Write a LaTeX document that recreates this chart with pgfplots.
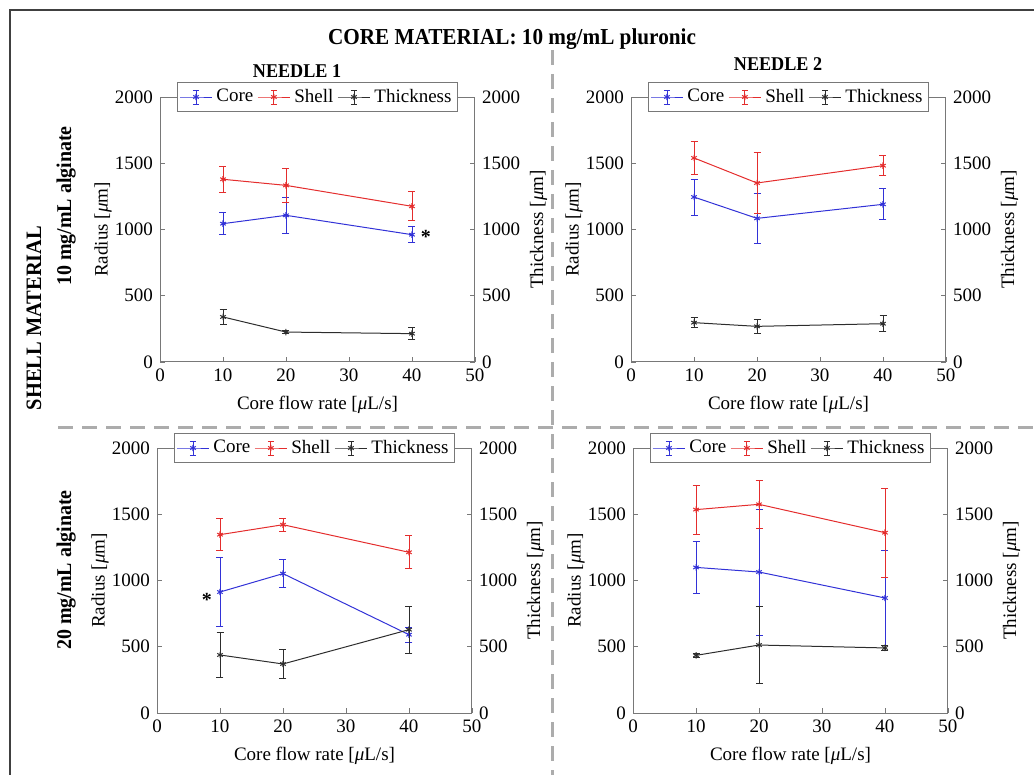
\documentclass[border=0pt]{standalone}
\usepackage{fontspec}
\setmainfont{Liberation Serif}
\newfontfamily\condfont{Liberation Serif}[FakeStretch=0.93]
\newfontfamily\rowfont{Liberation Serif}[FakeStretch=0.95]
\usepackage{pgfplots}
\pgfplotsset{compat=1.18}
\definecolor{coreblue}{RGB}{50,50,215}
\definecolor{shellred}{RGB}{228,45,45}
\definecolor{thickgray}{RGB}{45,45,45}
\definecolor{axgray}{RGB}{120,120,120}
\definecolor{dashgray}{RGB}{172,172,172}
\newcommand{\tf}{\fontsize{9.5}{11}\selectfont}

\pgfplotsset{
 ebar/.style={error bars/y dir=both, error bars/y explicit,
   error bars/error bar style={line width=0.45pt,solid},
   error bars/error mark options={rotate=90,mark size=1.75pt,line width=0.45pt,solid}},
 coreS/.style={color=coreblue, line width=0.5pt, mark=asterisk, mark size=1.6pt},
 shellS/.style={color=shellred, line width=0.5pt, mark=asterisk, mark size=1.6pt},
 thickS/.style={color=thickgray, line width=0.5pt, mark=asterisk, mark size=1.6pt},
 base/.style={
   scale only axis, width=157.5pt, height=132.5pt,
   xmin=0, xmax=50, ymin=0, ymax=2000,
   xtick={0,10,20,30,40,50}, ytick={0,500,1000,1500,2000},
   axis line style={axgray, line width=0.5pt},
   every tick/.style={axgray, line width=0.45pt},
   major tick length=2.5pt,
   tick label style={font=\tf, text=black},
   /pgf/number format/assume math mode=true,
   /pgf/number format/1000 sep={},
   clip=false,
 },
 leftax/.style={base, anchor=south west, ytick pos=left, xtick pos=bottom, tick align=inside,
   xlabel={Core flow rate [\textit{μ}L/s]}, ylabel={Radius [\textit{μ}m]},
   every axis x label/.style={at={(axis description cs:0.5,-0.1623)}, anchor=center, font=\tf},
   every axis y label/.style={at={(axis description cs:-0.181,0.5)}, rotate=90, anchor=center, font=\tf},
   legend style={at={(0.5,1)}, anchor=center, legend columns=3, draw=axgray, fill=white,
     font=\tf, inner sep=1pt, line width=0.5pt},
   legend image code/.code={
     \draw[mark repeat=2,mark phase=2,##1] plot coordinates {(0pt,0pt) (8pt,0pt) (16pt,0pt)};
     \draw[##1, mark=none, line width=0.45pt] (8pt,-3.5pt) -- (8pt,3.5pt)
        (6.5pt,-3.5pt) -- (9.5pt,-3.5pt) (6.5pt,3.5pt) -- (9.5pt,3.5pt);
   },
 },
 rightax/.style={base, anchor=south west, axis x line=none, axis y line*=right, ytick pos=right,
   tick align=inside, ylabel={Thickness [\textit{μ}m]},
   every axis y label/.style={at={(axis description cs:1.2016,0.5)}, rotate=90, anchor=center, font=\tf},
 },
}

\begin{document}
\begin{tikzpicture}
\useasboundingbox (0pt,0pt) rectangle (517pt,-387.5pt);
\draw[black!75, line width=0.6pt] (5pt,-387.5pt) -- (5pt,-5pt) -- (517pt,-5pt);
\draw[dashgray, line width=1.5pt, dash pattern=on 7.5pt off 4.5pt] (29pt,-213.5pt) -- (517pt,-213.5pt);
\draw[dashgray, line width=1.5pt, dash pattern=on 7.5pt off 4.5pt] (276pt,-25pt) -- (276pt,-387.5pt);

\node[font=\condfont\bfseries\fontsize{11.4}{13}\selectfont, anchor=base] at (256pt,-22.5pt) {CORE MATERIAL: 10 mg/mL pluronic};
\node[font=\condfont\bfseries\fontsize{9.75}{12}\selectfont, anchor=base] at (148.5pt,-39pt) {NEEDLE 1};
\node[font=\condfont\bfseries\fontsize{9.75}{12}\selectfont, anchor=base] at (389pt,-35.5pt) {NEEDLE 2};
\node[font=\rowfont\bfseries\fontsize{10.5}{12}\selectfont, rotate=90, anchor=base] at (35.5pt,-103pt) {10 mg/mL alginate};
\node[font=\rowfont\bfseries\fontsize{10.5}{12}\selectfont, rotate=90, anchor=base] at (35.5pt,-285pt) {20 mg/mL alginate};
\node[font=\condfont\bfseries\fontsize{11}{13}\selectfont, rotate=90, anchor=base] at (20.5pt,-159pt) {SHELL MATERIAL};

% ---------- Panel A: 10 mg/mL alginate, needle 1
\begin{axis}[leftax, at={(80pt,-181pt)}]
\addplot[coreS, ebar] table[x=x,y=y,y error=e]{
x y e
10 1044 85
20 1107 138
40 961 60
};\addlegendentry{Core}
\addplot[shellS, ebar] table[x=x,y=y,y error=e]{
x y e
10 1379 100
20 1333 127
40 1175 110
};\addlegendentry{Shell}
\addlegendimage{thickS}\addlegendentry{Thickness}
\node[font=\bfseries\fontsize{10}{12}\selectfont] at (axis cs:42.2,945) {*};
\end{axis}
\begin{axis}[rightax, at={(80pt,-181pt)}]
\addplot[thickS, ebar] table[x=x,y=y,y error=e]{
x y e
10 340 58
20 226 10
40 214 47
};
\end{axis}

% ---------- Panel B: 10 mg/mL alginate, needle 2
\begin{axis}[leftax, at={(315.5pt,-181pt)}]
\addplot[coreS, ebar] table[x=x,y=y,y error=e]{
x y e
10 1245 136
20 1084 188
40 1190 117
};\addlegendentry{Core}
\addplot[shellS, ebar] table[x=x,y=y,y error=e]{
x y e
10 1540 128
20 1351 233
40 1482 75
};\addlegendentry{Shell}
\addlegendimage{thickS}\addlegendentry{Thickness}
\end{axis}
\begin{axis}[rightax, at={(315.5pt,-181pt)}]
\addplot[thickS, ebar] table[x=x,y=y,y error=e]{
x y e
10 297 40
20 269 50
40 289 60
};
\end{axis}

% ---------- Panel C: 20 mg/mL alginate, needle 1
\begin{axis}[leftax, at={(78.5pt,-356.5pt)}]
\addplot[coreS, ebar] table[x=x,y=y,y error=e]{
x y e
10 913 258
20 1052 107
40 591 55
};\addlegendentry{Core}
\addplot[shellS, ebar] table[x=x,y=y,y error=e]{
x y e
10 1346 122
20 1421 48
40 1213 125
};\addlegendentry{Shell}
\addlegendimage{thickS}\addlegendentry{Thickness}
\node[font=\bfseries\fontsize{10}{12}\selectfont] at (axis cs:7.9,855) {*};
\end{axis}
\begin{axis}[rightax, at={(78.5pt,-356.5pt)}]
\addplot[thickS, ebar] table[x=x,y=y,y error=e]{
x y e
10 438 167
20 370 108
40 629 176
};
\end{axis}

% ---------- Panel D: 20 mg/mL alginate, needle 2
\begin{axis}[leftax, at={(316.5pt,-356.5pt)}]
\addplot[coreS, ebar] table[x=x,y=y,y error=e]{
x y e
10 1099 198
20 1064 475
40 868 360
};\addlegendentry{Core}
\addplot[shellS, ebar] table[x=x,y=y,y error=e]{
x y e
10 1535 186
20 1575 183
40 1361 335
};\addlegendentry{Shell}
\addlegendimage{thickS}\addlegendentry{Thickness}
\end{axis}
\begin{axis}[rightax, at={(316.5pt,-356.5pt)}]
\addplot[thickS, ebar] table[x=x,y=y,y error=e]{
x y e
10 435 15
20 513 290
40 491 18
};
\end{axis}
\end{tikzpicture}
\end{document}
